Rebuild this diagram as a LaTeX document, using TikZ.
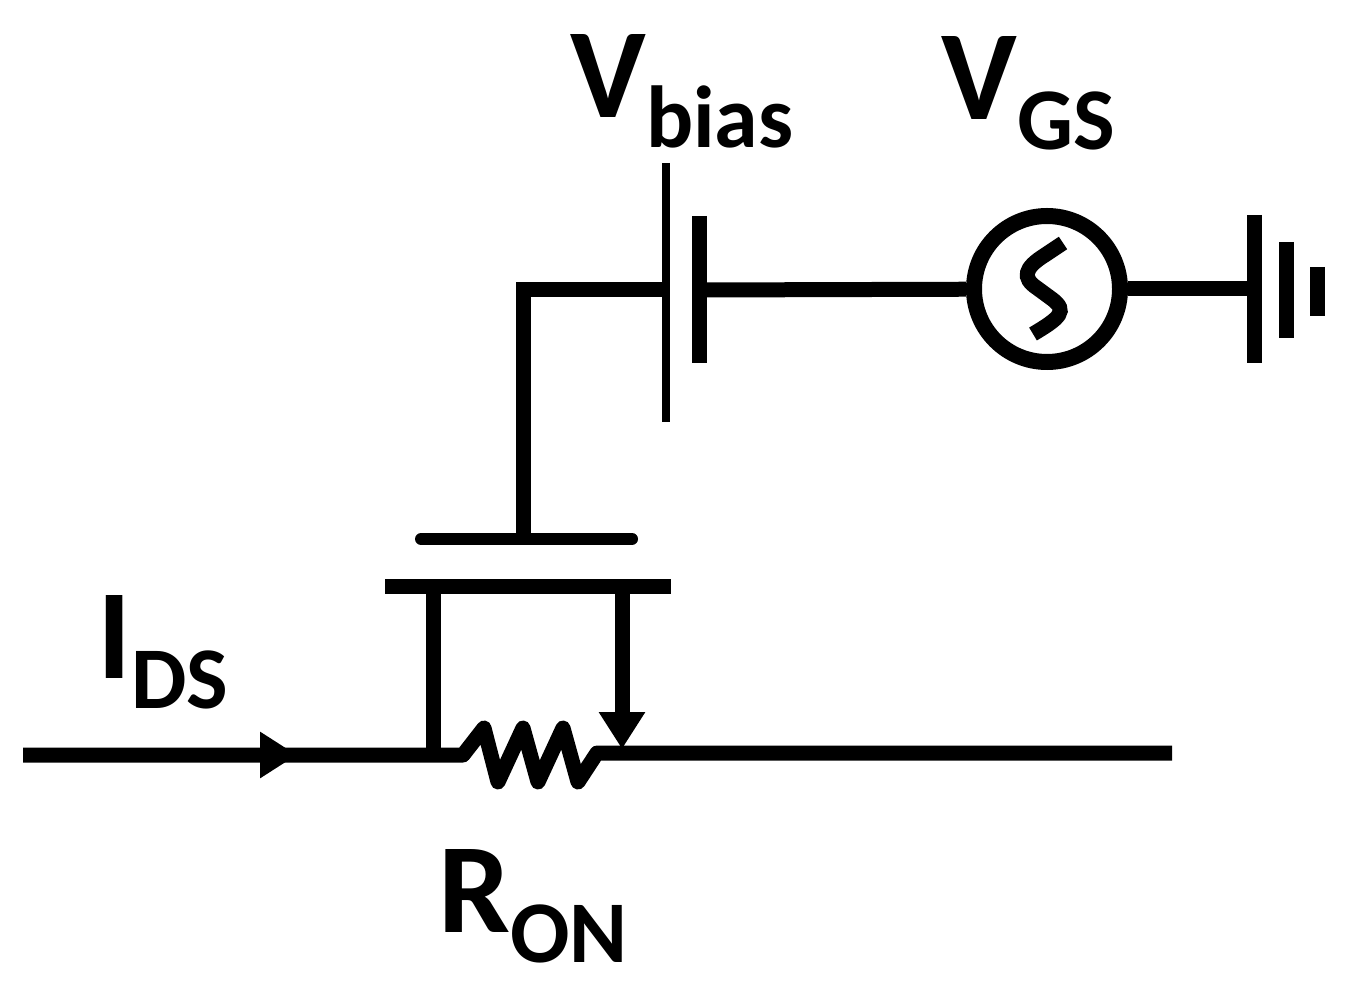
\documentclass[tikz,border=0pt]{standalone}
\usepackage{fontspec}
\setmainfont{Carlito}
\usetikzlibrary{arrows.meta}
\newcommand{\sublabel}[2]{{\fontsize{64}{64}\selectfont #1}\raisebox{-15pt}{\fontsize{44}{44}\selectfont #2}}

\begin{document}
\begin{tikzpicture}[x=0.5pt, y=-0.5pt,
    wire/.style={line width=7.5pt},
    plate/.style={wire},
    thinplate/.style={line width=4pt},
    gateplate/.style={line width=6pt, line cap=round},
    tip/.style={-{Triangle[length=18.5pt, width=22pt]}},
    source/.style={circle, draw, line width=8pt, minimum size=73pt, inner sep=0pt},
    label/.style={anchor=base west, inner sep=0pt, font=\bfseries}
]
\useasboundingbox (0,0) rectangle (1348,988);

% input line and channel
\coordinate (in) at (23,755);
\coordinate (iback) at (270,755);
\coordinate (iarrow) at (297,755);
\coordinate (rleft) at (463,755);
\coordinate (rright) at (597,753);
\coordinate (out) at (1172,753);
\draw[wire, line join=round] (in) -- (rleft) -- (484,728) -- (498,782) -- (523,728) -- (538,782) -- (563,728) -- (578,782) -- (rright) -- (out);
\draw[wire, tip] (iback) -- (iarrow);

% transistor
\coordinate (chl) at (385,586);
\coordinate (chr) at (671,586);
\coordinate (gl) at (421,539);
\coordinate (gr) at (632,539);
\coordinate (gm) at (523,539);
\coordinate (dtop) at (433,586);
\coordinate (dbot) at (433,755);
\coordinate (stop) at (622,586);
\coordinate (sbot) at (622,749);
\draw[plate] (chl) -- (chr);
\draw[gateplate] (gl) -- (gr);
\draw[wire] (dtop) -- (dbot);
\draw[wire, tip] (stop) -- (sbot);

% bias branch
\coordinate (bcorner) at (523,290);
\coordinate (blong) at (666,290);
\coordinate (bshort) at (699,290);
\node[source] (vgs) at (1047,289) {};
\coordinate (g1) at (1254,289);
\draw[wire] (gm) -- (bcorner) -- (blong);
\draw[thinplate] (666,163) -- (666,422);
\draw[plate] (699,216) -- (699,363);
\draw[wire] (bshort) -- (vgs);
\draw[wire] (vgs) -- (g1);
\draw[wire] (1063,243) -- (1045,255) .. controls (1024,268) and (1022,278) .. (1037,288) -- (1052,299) .. controls (1068,311) and (1060,318) .. (1033,334);

% ground
\draw[plate] (1254,215) -- (1254,363);
\draw[plate] (1286,242) -- (1286,338);
\draw[plate] (1317,267) -- (1317,316);

% labels
\node[label] (vbias) at (570,118) {\sublabel{V}{bias}};
\node[label] (vgslabel) at (941,120) {\sublabel{V}{GS}};
\node[label] (ids) at (97,678) {\sublabel{I}{DS}};
\node[label] (ron) at (438,932) {\sublabel{R}{ON}};
\end{tikzpicture}
\end{document}
